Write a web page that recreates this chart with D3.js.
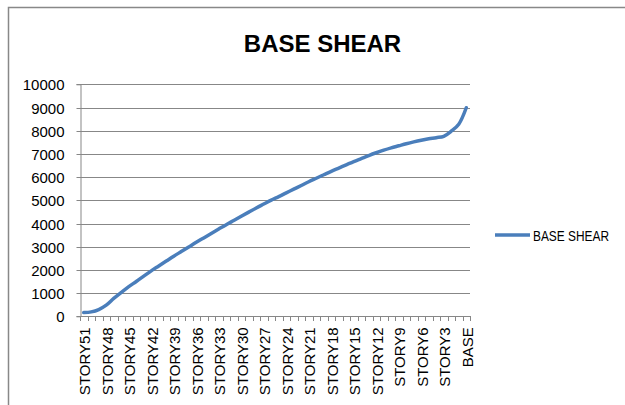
<!DOCTYPE html>
<html>
<head>
<meta charset="utf-8">
<script src="https://cdn.jsdelivr.net/npm/d3@7"></script>
<style>
  body { margin: 0; background: #fff; }
  text { font-family: "Liberation Sans", Arial, sans-serif; fill: #000; }
</style>
</head>
<body>
<div id="chart"></div>
<script>
const WIDTH = 625, HEIGHT = 405;

// data
const stories = ["STORY51","STORY50","STORY49","STORY48","STORY47","STORY46","STORY45","STORY44",
  "STORY43","STORY42","STORY41","STORY40","STORY39","STORY38","STORY37","STORY36","STORY35",
  "STORY34","STORY33","STORY32","STORY31","STORY30","STORY29","STORY28","STORY27","STORY26",
  "STORY25","STORY24","STORY23","STORY22","STORY21","STORY20","STORY19","STORY18","STORY17",
  "STORY16","STORY15","STORY14","STORY13","STORY12","STORY11","STORY10","STORY9","STORY8",
  "STORY7","STORY6","STORY5","STORY4","STORY3","STORY2","STORY1","BASE"];
const baseShear = [160, 190, 290, 480, 770, 1030, 1280, 1500,
  1730, 1960, 2170, 2380, 2590, 2790, 2990, 3190, 3380,
  3570, 3760, 3950, 4130, 4310, 4490, 4670, 4840, 5010,
  5160, 5320, 5480, 5640, 5800, 5950, 6100, 6250, 6390,
  6530, 6670, 6800, 6930, 7050, 7160, 7260, 7350, 7440,
  7520, 7590, 7650, 7700, 7760, 7980, 8280, 8990];
const shownLabels = ["STORY51","STORY48","STORY45","STORY42","STORY39","STORY36","STORY33",
  "STORY30","STORY27","STORY24","STORY21","STORY18","STORY15","STORY12","STORY9","STORY6",
  "STORY3","BASE"];
const yTicks = [0, 1000, 2000, 3000, 4000, 5000, 6000, 7000, 8000, 9000, 10000];
const seriesName = "BASE SHEAR";

const plot = {left: 80, right: 470, top: 84.3, bottom: 316.3};
const gridColor = "#878787";
const lineColor = "#4a7ebb";

let svg = d3.select("#chart")
  .append("svg")
  .attr("width", WIDTH)
  .attr("height", HEIGHT);

// chart frame (right and bottom edges run off the page)
svg.append("rect")
  .attr("x", 8.5).attr("y", 7.5)
  .attr("width", 640).attr("height", 420)
  .attr("fill", "none")
  .attr("stroke", "#888")
  .attr("stroke-width", 1.5);

let x = d3.scaleBand()
  .domain(stories)
  .range([plot.left, plot.right])
  .padding(0);

let y = d3.scaleLinear()
  .domain([0, 10000])
  .range([plot.bottom, plot.top]);

// gridlines
svg.append("g")
  .selectAll("line")
  .data(yTicks.slice(1))
  .enter()
  .append("line")
  .attr("x1", plot.left).attr("x2", plot.right)
  .attr("y1", d => Math.round(y(d)) + 0.5)
  .attr("y2", d => Math.round(y(d)) + 0.5)
  .attr("stroke", gridColor)
  .attr("stroke-width", 1);

// y axis
let yAxis = svg.append("g")
  .attr("transform", `translate(${plot.left + 0.5},0)`)
  .call(d3.axisLeft(y).tickValues(yTicks).tickSize(4).tickPadding(12).tickFormat(d3.format("d")));
yAxis.select(".domain").attr("stroke", gridColor);
yAxis.selectAll(".tick line").attr("stroke", gridColor);
yAxis.selectAll(".tick text")
  .style("font-size", "15px")
  .attr("font-family", null)
  .attr("dy", "0.36em");
yAxis.selectAll(".tick").attr("transform", d => `translate(0,${Math.round(y(d)) + 0.5})`);

// x axis line + ticks between categories
let xg = svg.append("g");
xg.append("line")
  .attr("x1", plot.left).attr("x2", plot.right)
  .attr("y1", Math.round(plot.bottom) + 0.5).attr("y2", Math.round(plot.bottom) + 0.5)
  .attr("stroke", gridColor);
let bounds = stories.map(d => x(d)).concat([x.range()[1]]);
xg.selectAll("line.tk")
  .data(bounds)
  .enter()
  .append("line")
  .attr("class", "tk")
  .attr("x1", d => Math.round(d) + 0.5).attr("x2", d => Math.round(d) + 0.5)
  .attr("y1", Math.round(plot.bottom)).attr("y2", Math.round(plot.bottom) + 5)
  .attr("stroke", gridColor);

xg.selectAll("text")
  .data(shownLabels)
  .enter()
  .append("text")
  .attr("transform", d => `translate(${x(d) + x.bandwidth() / 2 + 1},${plot.bottom + 11}) rotate(-90)`)
  .attr("dy", "0.36em")
  .style("text-anchor", "end")
  .style("font-size", "15px")
  .text(d => d);

// the series line
let line = d3.line()
  .x((d, i) => x(stories[i]) + x.bandwidth() / 2)
  .y(d => y(d))
  .curve(d3.curveCatmullRom.alpha(0.5));

svg.append("path")
  .datum(baseShear)
  .attr("fill", "none")
  .attr("stroke", lineColor)
  .attr("stroke-width", 3.5)
  .attr("stroke-linecap", "round")
  .attr("d", line);

// title
svg.append("text")
  .attr("x", 322.5).attr("y", 51.7)
  .style("text-anchor", "middle")
  .style("font-size", "24px")
  .style("font-weight", "bold")
  .text(seriesName);

// legend
svg.append("line")
  .attr("x1", 495).attr("x2", 530)
  .attr("y1", 235).attr("y2", 235)
  .attr("stroke", lineColor)
  .attr("stroke-width", 3.5);
svg.append("text")
  .attr("x", 533).attr("y", 241)
  .style("font-size", "14px")
  .attr("textLength", 76)
  .attr("lengthAdjust", "spacingAndGlyphs")
  .text(seriesName);
</script>
</body>
</html>
